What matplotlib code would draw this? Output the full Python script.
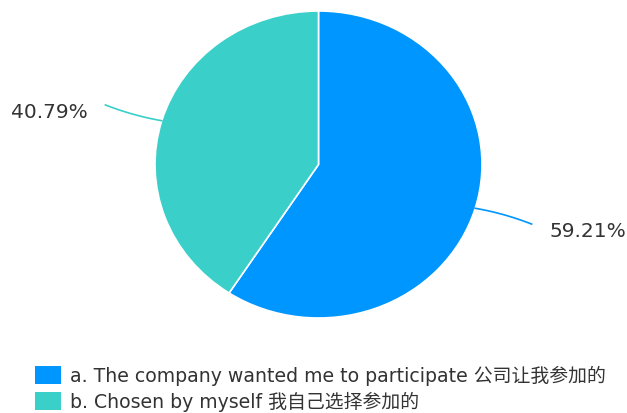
import numpy as np
import matplotlib
matplotlib.use("Agg")
import matplotlib.pyplot as plt
from matplotlib.patches import Rectangle

plt.rcParams['font.family'] = ['DejaVu Sans', 'Noto Sans CJK SC']

categories = ["a. The company wanted me to participate 公司让我参加的",
              "b. Chosen by myself 我自己选择参加的"]
shares = [59.21, 40.79]
colors = ["#0096ff", "#3ad0c9"]
text_color = "#333333"

W, H = 627, 414
fig = plt.figure(figsize=(W / 100, H / 100), dpi=100)

# pie area (pixel box of the ellipse)
cx, cy, rx, ry = 318.5, 165.5, 163.5, 153.5
ax = fig.add_axes([(cx - rx) / W, (H - cy - ry) / H, 2 * rx / W, 2 * ry / H])
wedges, _ = ax.pie(shares, colors=colors, startangle=90, counterclock=False,
                   radius=1.0, wedgeprops=dict(edgecolor="white", linewidth=1.2))
ax.set_aspect("auto")
ax.set_xlim(-1, 1)
ax.set_ylim(-1, 1)
ax.axis("off")

# leader lines and percentage labels
start = 90.0
for v, c in zip(shares, colors):
    sweep = v / 100 * 360
    mid = np.deg2rad(start - sweep / 2)
    start -= sweep
    ux, uy = np.cos(mid), np.sin(mid)
    x0, y0 = ux * 1.0, uy * 1.0
    x1, y1 = ux * 1.36, uy * 1.36
    xm, ym = ux * 1.18, uy * 1.18 - 0.02 * np.sign(uy)
    t = np.linspace(0, 1, 30)
    bx = (1 - t) ** 2 * x0 + 2 * (1 - t) * t * xm + t ** 2 * x1
    by = (1 - t) ** 2 * y0 + 2 * (1 - t) * t * ym + t ** 2 * y1
    ax.plot(bx, by, color=c, lw=1.2, clip_on=False)
    ha = "left" if ux > 0 else "right"
    ax.text(x1 + 0.11 * np.sign(ux), y1 - 0.045, f"{v:.2f}%", ha=ha, va="center",
            fontsize=14.5, color=text_color, clip_on=False)

# legend
lax = fig.add_axes([0, 0, 1, 1])
lax.set_xlim(0, W)
lax.set_ylim(H, 0)
lax.axis("off")
for i, (lab, c) in enumerate(zip(categories, colors)):
    yc = 375.5 + i * 26.5
    lax.add_patch(Rectangle((35, yc - 9), 26, 18, facecolor=c, edgecolor="none"))
    lax.text(70, yc, lab, ha="left", va="center", fontsize=13.6, color=text_color)

fig.savefig("out.png", dpi=100)
